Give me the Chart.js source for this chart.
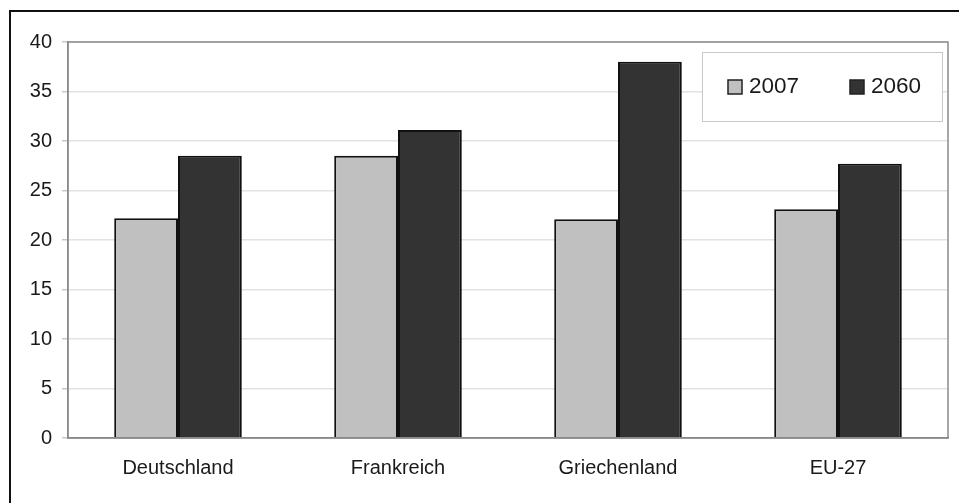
<!DOCTYPE html>
<html>
<head>
<meta charset="utf-8">
<script src="https://cdn.jsdelivr.net/npm/chart.js@4/dist/chart.umd.min.js"></script>
<style>
  html, body { margin: 0; padding: 0; background: #fff; overflow: hidden; }
  #wrap { position: relative; width: 959px; height: 503px; }
</style>
</head>
<body>
<div id="wrap"><canvas id="c" width="959" height="503"></canvas></div>
<script>
// Categories and series
const categories = ['Deutschland', 'Frankreich', 'Griechenland', 'EU-27'];
const seriesLabels = ['2007', '2060'];
const values2007 = [22.2, 28.5, 22.1, 23.1];
const values2060 = [28.5, 31.1, 38.0, 27.7];
const yTicks = [0, 5, 10, 15, 20, 25, 30, 35, 40];

const FONT = '"Liberation Sans", Arial, sans-serif';

// Outer frame, plot-area border and the boxed legend inside the plot
const framePlugin = {
  id: 'frame',
  beforeDraw(chart) {
    const ctx = chart.ctx;
    ctx.save();
    ctx.fillStyle = '#fff';
    ctx.fillRect(0, 0, chart.width, chart.height);
    ctx.fillStyle = '#111';
    ctx.fillRect(9, 10, 2, chart.height);
    ctx.fillRect(9, 10, chart.width, 2);
    ctx.restore();
  },
  afterDatasetsDraw(chart) {
    const ctx = chart.ctx;
    const a = chart.chartArea;
    ctx.save();
    // plot-area border
    ctx.strokeStyle = '#8a8a8a';
    ctx.lineWidth = 1.5;
    ctx.strokeRect(a.left, a.top, a.right - a.left, a.bottom - a.top);

    // legend box
    const bx = a.right - 246, by = a.top + 10, bw = 240, bh = 69;
    ctx.fillStyle = '#fff';
    ctx.fillRect(bx, by, bw, bh);
    ctx.strokeStyle = '#c8c8c8';
    ctx.lineWidth = 1;
    ctx.strokeRect(bx + 0.5, by + 0.5, bw, bh);

    const offsets = [26, 148];
    ctx.font = '22.5px ' + FONT;
    ctx.textBaseline = 'middle';
    ctx.textAlign = 'left';
    chart.data.datasets.forEach((ds, i) => {
      const sx = bx + offsets[i], sy = by + 28;
      ctx.fillStyle = ds.backgroundColor;
      ctx.fillRect(sx, sy, 14, 14);
      ctx.strokeStyle = '#222';
      ctx.lineWidth = 1.5;
      ctx.strokeRect(sx, sy, 14, 14);
      ctx.fillStyle = '#1a1a1a';
      ctx.fillText(ds.label, sx + 21, sy + 7);
    });
    ctx.restore();
  }
};

new Chart(document.getElementById('c'), {
  type: 'bar',
  data: {
    labels: categories,
    datasets: [
      { label: seriesLabels[0], data: values2007, backgroundColor: '#c0c0c0', borderColor: '#111', borderWidth: 2 },
      { label: seriesLabels[1], data: values2060, backgroundColor: '#333333', borderColor: '#111', borderWidth: 2 }
    ]
  },
  options: {
    responsive: false,
    animation: false,
    devicePixelRatio: 1,
    layout: { padding: { top: 42, right: 11, left: 0, bottom: 0 } },
    plugins: { legend: { display: false }, tooltip: { enabled: false }, title: { display: false } },
    datasets: { bar: { categoryPercentage: 0.58, barPercentage: 1.0 } },
    scales: {
      x: {
        grid: { display: false, drawTicks: false },
        border: { display: true, color: '#8a8a8a', width: 1.5 },
        ticks: { color: '#1a1a1a', font: { family: FONT, size: 20 }, padding: 18, maxRotation: 0 },
        afterFit(axis) { axis.height = 65; }
      },
      y: {
        min: 0, max: 40,
        afterBuildTicks(axis) { axis.ticks = yTicks.map(v => ({ value: v })); },
        grid: { color: '#e2e2e2', lineWidth: 1.5, tickLength: 6, tickColor: '#c8c8c8' },
        border: { display: true, color: '#8a8a8a', width: 1.5 },
        ticks: { color: '#1a1a1a', font: { family: FONT, size: 20 }, padding: 10 },
        afterFit(axis) { axis.width = 68; }
      }
    }
  },
  plugins: [framePlugin]
});
</script>
</body>
</html>
